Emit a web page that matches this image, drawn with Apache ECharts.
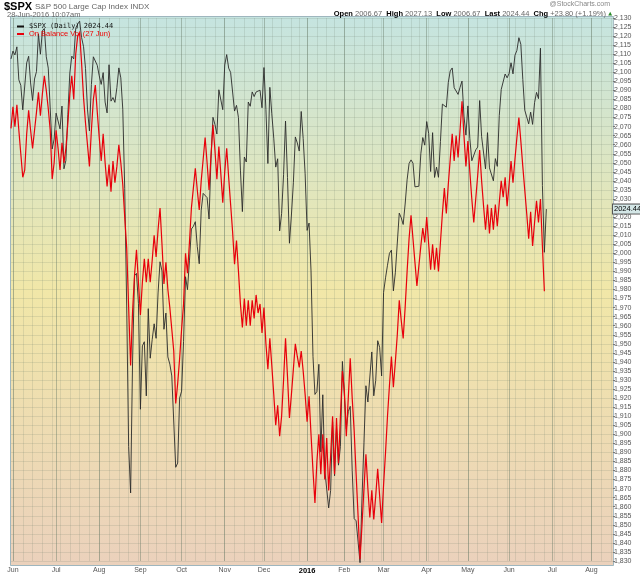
<!DOCTYPE html>
<html>
<head>
<meta charset="utf-8">
<title>$SPX On Balance Volume</title>
<script src="https://cdn.jsdelivr.net/npm/echarts@6/dist/echarts.min.js"></script>
<style>
    html,body{margin:0;padding:0;background:#fff;}
    #main{width:640px;height:576px;}
</style>
</head>
<body>
<div id="main"></div>
<script>
/*trading calendar*/
var firstDay = "2015-05-29";
var lastDay = "2016-08-16";   //axis runs past the last bar
var holidays = ["2015-07-03","2015-09-07","2015-11-26","2015-12-25","2016-01-01",
    "2016-01-18","2016-02-15","2016-03-25","2016-05-30","2016-07-04"];
var monthNames = ["Jan","Feb","Mar","Apr","May","Jun","Jul","Aug","Sep","Oct","Nov","Dec"];

//$SPX daily close, 29 May - 31 Aug 2015
var spx2015a = [2107.39,
    2111.73,2109.60,2114.07,2095.84,2092.83,2079.28,2080.15,2105.20,2108.86,2094.11,2084.43,2096.29,2100.44,2121.24,2109.99,2122.85,2124.20,2108.58,2102.31,2101.49,2057.64,2063.11,
    2077.42,2076.78,2068.76,2081.34,2046.68,2051.31,2076.62,2099.60,2108.95,2107.40,2124.29,2126.64,2128.28,2119.21,2114.15,2102.15,2079.65,2067.64,2093.25,2108.57,2108.63,2103.84,
    2098.04,2093.32,2099.84,2083.56,2077.57,2104.18,2084.07,2086.05,2083.39,2091.54,2102.44,2096.92,2079.61,2035.73,1970.89,1893.21,1867.61,1940.51,1987.66,1988.87,1972.18];
//Sep - Dec 2015
var spx2015b = [1913.85,1948.86,1951.13,1921.22,1969.41,1942.04,1952.29,1961.05,1953.03,1978.09,1995.31,1990.20,1958.03,1966.97,1942.74,1938.76,1932.24,1931.34,1881.77,1884.09,1920.03,
    1923.82,1951.36,1987.05,1979.92,1995.83,2013.43,2014.89,2017.46,2003.69,1994.24,2023.86,2033.11,2033.66,2030.77,2018.94,2052.51,2075.15,2071.18,2065.89,2090.35,2089.41,2079.36,
    2104.05,2109.79,2102.31,2099.93,2099.20,2078.58,2081.72,2075.00,2045.97,2023.04,2053.19,2050.44,2083.58,2081.24,2089.17,2086.59,2089.14,2088.87,2090.11,2080.41,
    2102.63,2079.51,2049.62,2091.69,2077.07,2063.59,2047.62,2052.23,2012.37,2021.94,2043.41,2073.07,2041.89,2005.55,2021.15,2038.97,2064.29,2060.99,2056.50,2078.36,2063.36,2043.94];
//Jan - 28 Jun 2016
var spx2016 = [2012.66,2016.71,1990.26,1943.09,1922.03,1923.67,1938.68,1890.28,1921.84,1880.33,1881.33,1859.33,1868.99,1906.90,1877.08,1903.63,1882.95,1893.36,1940.24,
    1939.38,1903.03,1912.53,1915.45,1880.05,1853.44,1852.21,1851.86,1829.08,1864.78,1895.58,1926.82,1917.83,1917.78,1945.50,1921.27,1929.80,1951.70,1948.05,1932.23,
    1978.35,1986.45,1993.40,1999.99,2001.76,1979.26,1989.26,1989.57,2022.19,2019.64,2015.93,2027.22,2040.59,2049.58,2051.60,2049.80,2036.71,2035.94,2037.05,2055.01,2063.95,2059.74,
    2072.78,2066.13,2045.17,2066.66,2041.91,2047.60,2041.99,2061.72,2082.42,2082.78,2080.73,2094.34,2100.80,2102.40,2091.48,2091.58,2087.79,2091.70,2095.15,2075.81,2065.30,
    2081.43,2063.37,2051.12,2050.63,2057.14,2058.69,2084.39,2064.46,2064.11,2046.61,2066.66,2047.21,2047.63,2040.04,2052.32,2048.04,2076.06,2090.54,2090.10,2099.06,2096.95,
    2099.33,2105.26,2099.13,2109.41,2112.13,2119.12,2115.48,2096.07,2079.06,2075.32,2071.50,2077.99,2071.22,2083.25,2088.90,2085.45,2113.32,2037.41,2000.54,2024.44];

//On Balance Volume (overlay, read in price-axis units), 29 May - 31 Aug 2015
var obv2015a = [2069,
    2081,2070,2082,2068,2055,2042,2046,2066,2079,2068,2058,2068,2078,2089,2076,2088,2098,2090,2080,2068,2041,2050,
    2068,2058,2046,2061,2050,2058,2072,2088,2098,2085,2110,2120,2122,2105,2086,2072,2060,2048,2068,2085,2093,2078,
    2064,2051,2066,2050,2037,2049,2034,2051,2039,2048,2060,2050,2038,2020,2003,1970,1938,1968,1988,2002,1984];
var obv2015b = [1966,1984,1997,1984,1997,1984,1996,2010,1998,2013,2025,2005,1983,1995,1980,1970,1958,1946,1917,1928,1942,
    1958,1972,2000,1989,2006,2025,2036,2047,2035,2024,2040,2052,2064,2050,2035,2054,2071,2057,2041,2059,2044,2028,
    2045,2058,2042,2027,2012,1994,2007,1990,1972,1959,1975,1960,1974,1960,1974,1964,1977,1967,1972,1956,
    1970,1950,1936,1953,1938,1922,1905,1916,1899,1910,1930,1953,1932,1909,1922,1936,1950,1943,1937,1946,1935,1922];
//Jan - 27 Jun 2016
var obv2016 = [1907,1921,1900,1880,1862,1885,1900,1878,1900,1875,1898,1869,1888,1910,1878,1909,1884,1910,1935,
    1924,1899,1920,1942,1920,1902,1878,1855,1831,1850,1870,1889,1870,1854,1869,1853,1866,1881,1866,1851,
    1872,1890,1910,1927,1943,1926,1940,1955,1974,1963,1953,1970,1990,2008,2021,2008,1995,1982,1993,2004,2014,2006,
    2020,2005,1991,2005,1991,2003,1990,2006,2022,2036,2022,2038,2052,2066,2051,2065,2053,2068,2084,2065,2048,
    2062,2045,2030,2017,2030,2043,2057,2040,2026,2013,2027,2011,2025,2013,2027,2015,2028,2040,2031,2042,2026,
    2038,2051,2039,2052,2064,2075,2062,2048,2035,2022,2008,2023,2004,2017,2029,2017,2030,2004,1979];

var yMin = 1830, yMax = 2130, yStep = 5;

var spxClose = spx2015a.concat(spx2015b, spx2016);
var obvLine = obv2015a.concat(obv2015b, obv2016);
var lastClose = spxClose[spxClose.length - 1];

//拼接交易日
function buildDays() {
    var days = [];
    var d = new Date(firstDay + "T00:00:00Z");
    var end = new Date(lastDay + "T00:00:00Z");
    while (d <= end) {
        var wd = d.getUTCDay();
        var key = d.toISOString().slice(0, 10);
        if (wd != 0 && wd != 6 && holidays.indexOf(key) < 0) days.push(key);
        d.setUTCDate(d.getUTCDate() + 1);
    }
    return days;
}
var days = buildDays();
var monthStart = [], weekStart = [];
for (var i = 0; i < days.length; i++) {
    var prev = i > 0 ? days[i - 1] : null;
    monthStart.push(prev != null && prev.slice(5, 7) != days[i].slice(5, 7));
    //first bar of each week
    weekStart.push(prev != null && new Date(days[i]).getUTCDay() < new Date(prev).getUTCDay());
}

var myChart = echarts.init(document.getElementById("main"));
var gridColor = "rgba(105,125,105,0.17)";
var bg = new echarts.graphic.LinearGradient(0, 0, 0, 1, [
    {offset: 0, color: "#c5e4e0"},
    {offset: 0.5, color: "#f1e7a8"},
    {offset: 1, color: "#ebd1bc"}
]);

var option = {
    animation: false,
    textStyle: {fontFamily: "Liberation Sans"},
    grid: {left: 11, right: 27, top: 18, bottom: 15},
    graphic: [
        {type: "rect", z: -10, silent: true, shape: {x: 10.5, y: 16.5, width: 603, height: 549},
            style: {fill: bg, stroke: "#9fb6be", lineWidth: 1}},
        {type: "text", left: 4, top: 1, style: {text: "$SPX", font: "bold 11px Liberation Sans", fill: "#000"}},
        {type: "text", left: 35, top: 3, style: {text: "S&P 500 Large Cap Index INDX", font: "8px Liberation Sans", fill: "#666"}},
        {type: "text", left: 7, top: 11, style: {text: "28-Jun-2016 10:07am", font: "7.5px Liberation Sans", fill: "#666"}},
        {type: "text", right: 30, top: 1, style: {text: "@StockCharts.com", font: "7px Liberation Sans", fill: "#888"}},
        {type: "text", right: 34, top: 10, style: {
            text: "{b|Open} 2006.67  {b|High} 2027.13  {b|Low} 2006.67  {b|Last} 2024.44  {b|Chg} +23.80 (+1.19%)",
            font: "7.5px Liberation Sans", fill: "#666",
            rich: {b: {fontWeight: "bold", fill: "#000", fontSize: 7.5, fontFamily: "Liberation Sans"}}
        }},
        {type: "text", right: 28, top: 11, style: {text: "▲", font: "5px DejaVu Sans", fill: "#2a8a2a"}}
    ],
    legend: {
        left: 12, top: 18, orient: "vertical", itemGap: 0, itemWidth: 7, itemHeight: 2, icon: "rect",
        selectedMode: false,
        data: [
            {name: "$SPX (Daily) " + lastClose.toFixed(2), textStyle: {color: "#111", fontFamily: "DejaVu Sans Mono", fontSize: 7}},
            {name: "On Balance Vol (27 Jun)", textStyle: {color: "#e00", fontSize: 7.5}}
        ]
    },
    xAxis: [
        {
            type: "category", data: days, boundaryGap: false,
            axisLine: {show: false}, axisTick: {show: false},
            axisLabel: {
                interval: function (idx) { return monthStart[idx]; },
                formatter: function (v) {
                    var m = parseInt(v.slice(5, 7), 10) - 1;
                    return m == 0 ? "{y|" + v.slice(0, 4) + "}" : monthNames[m];
                },
                fontSize: 7, color: "#555", margin: 6,
                rich: {y: {fontWeight: "bold", color: "#000", fontSize: 7.5}}
            },
            splitLine: {show: true, interval: function (idx) { return weekStart[idx]; }, lineStyle: {color: gridColor, width: 1}}
        },
        {
            type: "category", data: days, boundaryGap: false, position: "bottom",
            axisLine: {show: false}, axisTick: {show: false}, axisLabel: {show: false},
            splitLine: {show: true, interval: function (idx) { return monthStart[idx]; }, lineStyle: {color: "rgba(100,120,100,0.42)", width: 1}}
        }
    ],
    yAxis: {
        type: "value", position: "right", min: yMin, max: yMax, interval: yStep,
        axisLine: {show: true, lineStyle: {color: "#a9bcc4"}},
        axisTick: {show: true, length: 2, lineStyle: {color: "#777"}},
        axisLabel: {fontSize: 7, color: "#555", margin: 1},
        splitLine: {lineStyle: {color: gridColor}}
    },
    series: [
        {
            name: "$SPX (Daily) " + lastClose.toFixed(2), type: "line", data: spxClose,
            xAxisIndex: 0, symbol: "none", clip: false, z: 3,
            lineStyle: {color: "#2a2a2a", width: 0.9}, itemStyle: {color: "#111"},
            markLine: {
                silent: true, symbol: "none", lineStyle: {color: "rgba(0,0,0,0)", width: 1, type: "solid"},
                data: [{yAxis: lastClose}],
                label: {show: true, position: "end", distance: 0, formatter: lastClose.toFixed(2), fontSize: 7.5, color: "#000",
                    backgroundColor: "#d3e6e6", borderColor: "#555", borderWidth: 1, padding: [1, 1, 0, 1]}
            }
        },
        {
            name: "On Balance Vol (27 Jun)", type: "line", data: obvLine,
            xAxisIndex: 0, symbol: "none", clip: false, z: 4,
            lineStyle: {color: "#e8000b", width: 1.2}, itemStyle: {color: "#e8000b"}
        }
    ]
};

// 为echarts对象加载数据
myChart.setOption(option);
</script>
</body>
</html>
